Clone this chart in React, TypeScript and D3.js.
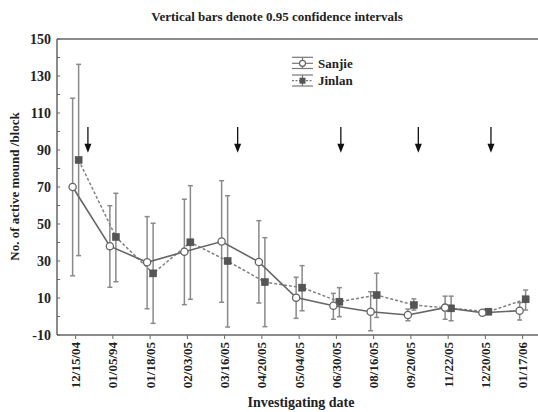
import React from "react";
import * as d3 from "d3";

const categories = ["12/15/04","01/05/94","01/18/05","02/03/05","03/16/05","04/20/05","05/04/05","06/30/05","08/16/05","09/20/05","11/22/05","12/20/05","01/17/06"];
const sanjieMean = [70, 38, 29.3, 35, 40.5, 29.5, 10.2, 5.8, 2.6, 0.8, 4.8, 2, 3.1];
const sanjieHigh = [118, 59.9, 54, 63.4, 73.4, 51.8, 21.2, 12.5, 13.4, 4, 11, 3, 7.5];
const sanjieLow = [22, 15.8, 4.2, 6.4, 7.7, 7.3, -1, -1.5, -7.7, -2.3, -1.5, 1, -1.9];
const jinlanMean = [84.6, 43, 23.3, 40.1, 30, 18.6, 15.6, 8, 11.6, 6.2, 4.4, 2.6, 9.3];
const jinlanHigh = [136.3, 66.6, 50.4, 70.7, 65.3, 42.6, 27.5, 15.6, 23.4, 9.5, 11, 4, 14.3];
const jinlanLow = [32.9, 18.8, -3.7, 9.3, -5.7, -5.5, 3.1, -0.1, -0.5, 3.5, -2.3, 1.2, 3.5];
const yTicks = [-10, 10, 30, 50, 70, 90, 110, 130, 150];
const arrowsAt = [0.33, 4.35, 7.12, 9.2, 11.15];
const arrowTop = 102.5;
const arrowTip = 88.5;
const title = "Vertical bars denote 0.95 confidence intervals";

const W = 538, H = 412;
const left = 57, top = 39, bottom = 335;

export default function App() {
  const x = d3.scaleBand<string>().domain(categories).range([left, left + 13 * 37.25]).padding(0);
  const bw = x.bandwidth();
  const cx = (i: number) => (x(categories[0]) as number) + bw / 2 + i * x.step();
  const y = d3.scaleLinear().domain([-10, 150]).range([bottom, top]);
  const minor = d3.range(-10, 151, 10);
  const off = 3;
  const sx = (i: number) => cx(i) - off;
  const jx = (i: number) => cx(i) + off;
  const sLine = d3.line<number>().x((_, i) => sx(i)).y((d) => y(d));
  const jLine = d3.line<number>().x((_, i) => jx(i)).y((d) => y(d));
  const serif = "'Liberation Serif', 'DejaVu Serif', serif";
  const errColor = "#8a8a8a";
  const cap = 2.5;

  const errBars = (xs: (i: number) => number, lo: number[], hi: number[]) =>
    categories.map((_, i) => (
      <g key={i} stroke={errColor} strokeWidth={1.5}>
        <line x1={xs(i)} x2={xs(i)} y1={y(lo[i])} y2={y(hi[i])} />
        <line x1={xs(i) - cap} x2={xs(i) + cap} y1={y(hi[i])} y2={y(hi[i])} />
        <line x1={xs(i) - cap} x2={xs(i) + cap} y1={y(lo[i])} y2={y(lo[i])} />
      </g>
    ));

  const lgX = 292, lgW = 21;
  const lgMid = lgX + lgW / 2;

  return (
    <svg width={W} height={H} style={{ position: "absolute", left: 0, top: 0, background: "#fff" }} fontFamily={serif}>
      <rect width={W} height={H} fill="#fff" />
      <text x={277} y={21} textAnchor="middle" fontSize={13} fontWeight="bold" fill="#222">{title}</text>
      {/* frame */}
      <line x1={left} x2={W} y1={top} y2={top} stroke="#666" strokeWidth={1.5} />
      <line x1={left} x2={W} y1={bottom} y2={bottom} stroke="#666" strokeWidth={1.5} />
      <line x1={left} x2={left} y1={top} y2={bottom} stroke="#666" strokeWidth={1.5} />
      {/* y ticks */}
      {minor.map((v) => (
        <line key={v} x1={left} x2={left + 3} y1={y(v)} y2={y(v)} stroke="#666" strokeWidth={1} />
      ))}
      {yTicks.map((v) => (
        <text key={v} x={51} y={y(v)} dy="0.35em" textAnchor="end" fontSize={14} fontWeight="bold" fill="#222">{v}</text>
      ))}
      {/* x ticks */}
      {categories.map((c, i) => (
        <g key={c}>
          <line x1={cx(i)} x2={cx(i)} y1={bottom} y2={bottom + 4} stroke="#666" strokeWidth={1} />
          <text transform={`translate(${cx(i)},${bottom + 7}) rotate(-90)`} textAnchor="end" dy="0.35em" fontSize={13} fontWeight="bold" fill="#222">{c}</text>
        </g>
      ))}
      <text x={301} y={407} textAnchor="middle" fontSize={14} fontWeight="bold" fill="#222">Investigating date</text>
      <text transform={`translate(19,${186.5}) rotate(-90)`} textAnchor="middle" fontSize={13} fontWeight="bold" fill="#222">No. of active mound /block</text>
      {/* arrows */}
      {arrowsAt.map((a, i) => {
        const ax = cx(a);
        return (
          <g key={i}>
            <line x1={ax} x2={ax} y1={y(arrowTop)} y2={y(arrowTip) - 8} stroke="#111" strokeWidth={1.3} />
            <path d={`M${ax - 3.5},${y(arrowTip) - 9} L${ax + 3.5},${y(arrowTip) - 9} L${ax},${y(arrowTip)} Z`} fill="#111" />
          </g>
        );
      })}
      {/* error bars */}
      {errBars(sx, sanjieLow, sanjieHigh)}
      {errBars(jx, jinlanLow, jinlanHigh)}
      {/* lines */}
      <path d={jLine(jinlanMean) || ""} fill="none" stroke="#808080" strokeWidth={1.5} strokeDasharray="3,2" />
      <path d={sLine(sanjieMean) || ""} fill="none" stroke="#666" strokeWidth={1.6} />
      {jinlanMean.map((v, i) => (
        <rect key={i} x={jx(i) - 3.5} y={y(v) - 3.5} width={7} height={7} fill="#555" stroke="#444" strokeWidth={0.5} />
      ))}
      {sanjieMean.map((v, i) => (
        <circle key={i} cx={sx(i)} cy={y(v)} r={3.6} fill="#fff" stroke="#666" strokeWidth={1.3} />
      ))}
      {/* legend */}
      <g stroke="#777" strokeWidth={1.2}>
        <line x1={lgX} x2={lgX + lgW} y1={57.3} y2={57.3} />
        <line x1={lgX} x2={lgX + lgW} y1={63.3} y2={63.3} />
        <line x1={lgX} x2={lgX + lgW} y1={68.5} y2={68.5} />
        <line x1={lgMid} x2={lgMid} y1={57.3} y2={68.5} />
        <line x1={lgX} x2={lgX + lgW} y1={75} y2={75} />
        <line x1={lgX} x2={lgX + lgW} y1={80.7} y2={80.7} strokeDasharray="2,1.5" />
        <line x1={lgX} x2={lgX + lgW} y1={86} y2={86} />
        <line x1={lgMid} x2={lgMid} y1={75} y2={86} />
      </g>
      <circle cx={lgMid} cy={63.3} r={3} fill="#fff" stroke="#666" strokeWidth={1.2} />
      <rect x={lgMid - 3} y={80.7 - 3} width={6} height={6} fill="#555" />
      <text x={318} y={63.3} dy="0.35em" fontSize={13} fontWeight="bold" fill="#222">Sanjie</text>
      <text x={318} y={80.5} dy="0.35em" fontSize={13} fontWeight="bold" fill="#222">Jinlan</text>
    </svg>
  );
}
